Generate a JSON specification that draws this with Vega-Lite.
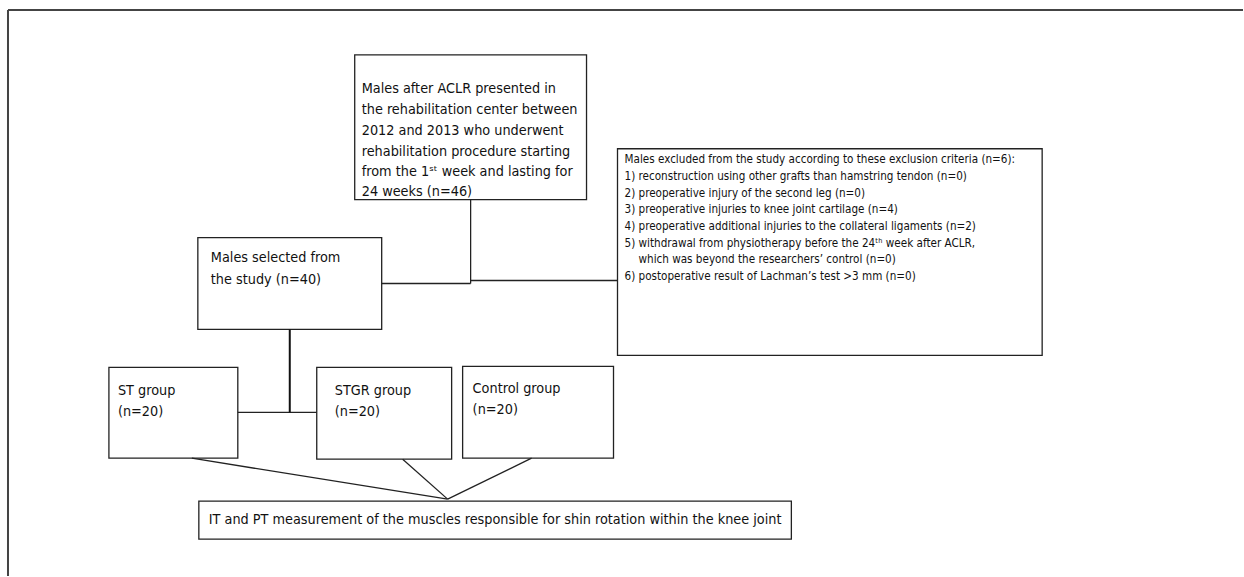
{
  "$schema": "https://vega.github.io/schema/vega-lite/v6.json",
  "width": 1244,
  "height": 577,
  "autosize": {"type": "fit", "contains": "padding"},
  "padding": 0,
  "background": "white",
  "config": {"view": {"stroke": null}},
  "datasets": {
    "boxes": [
      {"box": "start", "x": 355, "y": 55, "x2": 587, "y2": 200},
      {"box": "selected", "x": 198, "y": 238, "x2": 382, "y2": 330},
      {"box": "excluded", "x": 618, "y": 149, "x2": 1043, "y2": 356},
      {"box": "ST", "x": 109, "y": 368, "x2": 238, "y2": 459},
      {"box": "STGR", "x": 317, "y": 368, "x2": 452, "y2": 460},
      {"box": "Control", "x": 463, "y": 367, "x2": 614, "y2": 459},
      {"box": "outcome", "x": 199, "y": 502, "x2": 792, "y2": 540}
    ],
    "frame": [
      {"x": 8, "y": 10, "x2": 1244, "y2": 10},
      {"x": 8, "y": 10, "x2": 8, "y2": 577}
    ],
    "links": [
      {"kind": "thin", "x": 471, "y": 200, "x2": 471, "y2": 284},
      {"kind": "thin", "x": 471, "y": 281, "x2": 618, "y2": 281},
      {"kind": "thin", "x": 382, "y": 284, "x2": 471, "y2": 284},
      {"kind": "thick", "x": 290, "y": 330, "x2": 290, "y2": 413},
      {"kind": "thin", "x": 238, "y": 413, "x2": 317, "y2": 413},
      {"kind": "thin", "x": 192, "y": 459, "x2": 448, "y2": 500},
      {"kind": "thin", "x": 403, "y": 460, "x2": 448, "y2": 500},
      {"kind": "thin", "x": 532, "y": 459, "x2": 448, "y2": 500}
    ],
    "labels": [
      {"box": "start", "x": 362, "y": 89, "text": "Males after ACLR presented in"},
      {"box": "start", "x": 362, "y": 110, "text": "the rehabilitation center between"},
      {"box": "start", "x": 362, "y": 131, "text": "2012 and 2013 who underwent"},
      {"box": "start", "x": 362, "y": 152, "text": "rehabilitation procedure starting"},
      {"box": "start", "x": 362, "y": 172.5, "text": "from the 1ˢᵗ week and lasting for"},
      {"box": "start", "x": 362, "y": 192, "text": "24 weeks (n=46)"},
      {"box": "selected", "x": 211, "y": 258, "text": "Males selected from"},
      {"box": "selected", "x": 211, "y": 280, "text": "the study (n=40)"},
      {"box": "ST", "x": 118, "y": 392, "text": "ST group"},
      {"box": "ST", "x": 118, "y": 413, "text": "(n=20)"},
      {"box": "STGR", "x": 335, "y": 392, "text": "STGR group"},
      {"box": "STGR", "x": 335, "y": 413, "text": "(n=20)"},
      {"box": "Control", "x": 473, "y": 390, "text": "Control group"},
      {"box": "Control", "x": 473, "y": 411, "text": "(n=20)"},
      {"box": "outcome", "x": 209, "y": 521, "text": "IT and PT measurement of the muscles responsible for shin rotation within the knee joint"},
      {"box": "excluded", "x": 625, "y": 160.5, "text": "Males excluded from the study according to these exclusion criteria (n=6):"},
      {"box": "excluded", "x": 625, "y": 177, "text": "1) reconstruction using other grafts than hamstring tendon (n=0)"},
      {"box": "excluded", "x": 625, "y": 194, "text": "2) preoperative injury of the second leg (n=0)"},
      {"box": "excluded", "x": 625, "y": 210.5, "text": "3) preoperative injuries to knee joint cartilage (n=4)"},
      {"box": "excluded", "x": 625, "y": 227, "text": "4) preoperative additional injuries to the collateral ligaments (n=2)"},
      {"box": "excluded", "x": 625, "y": 244, "text": "5) withdrawal from physiotherapy before the 24ᵗʰ week after ACLR,"},
      {"box": "excluded", "x": 639, "y": 260.5, "text": "which was beyond the researchers’ control (n=0)"},
      {"box": "excluded", "x": 625, "y": 277, "text": "6) postoperative result of Lachman’s test >3 mm (n=0)"}
    ]
  },
  "encoding": {
    "x": {"field": "x", "type": "quantitative", "axis": null, "scale": {"domain": [0, 1244], "nice": false, "zero": false}},
    "y": {"field": "y", "type": "quantitative", "axis": null, "scale": {"domain": [0, 577], "nice": false, "zero": false, "reverse": true}}
  },
  "layer": [
    {
      "data": {"name": "frame"},
      "mark": {"type": "rule", "stroke": "#444444", "strokeWidth": 2},
      "encoding": {"x2": {"field": "x2"}, "y2": {"field": "y2"}}
    },
    {
      "data": {"name": "boxes"},
      "mark": {"type": "rect", "filled": false, "stroke": "#222222", "strokeWidth": 1.3},
      "encoding": {"x2": {"field": "x2"}, "y2": {"field": "y2"}}
    },
    {
      "data": {"name": "links"},
      "transform": [{"filter": "datum.kind == 'thin'"}],
      "mark": {"type": "rule", "stroke": "#222222", "strokeWidth": 1.3},
      "encoding": {"x2": {"field": "x2"}, "y2": {"field": "y2"}}
    },
    {
      "data": {"name": "links"},
      "transform": [{"filter": "datum.kind == 'thick'"}],
      "mark": {"type": "rule", "stroke": "#111111", "strokeWidth": 2},
      "encoding": {"x2": {"field": "x2"}, "y2": {"field": "y2"}}
    },
    {
      "data": {"name": "labels"},
      "transform": [{"filter": "datum.box != 'excluded'"}],
      "mark": {"type": "text", "align": "left", "baseline": "middle", "font": "'DejaVu Sans Condensed', sans-serif", "fontSize": 14.3, "fill": "#111111"},
      "encoding": {"text": {"field": "text"}}
    },
    {
      "data": {"name": "labels"},
      "transform": [{"filter": "datum.box == 'excluded'"}],
      "mark": {"type": "text", "align": "left", "baseline": "middle", "font": "'DejaVu Sans Condensed', sans-serif", "fontSize": 11.6, "fill": "#111111"},
      "encoding": {"text": {"field": "text"}}
    }
  ]
}
